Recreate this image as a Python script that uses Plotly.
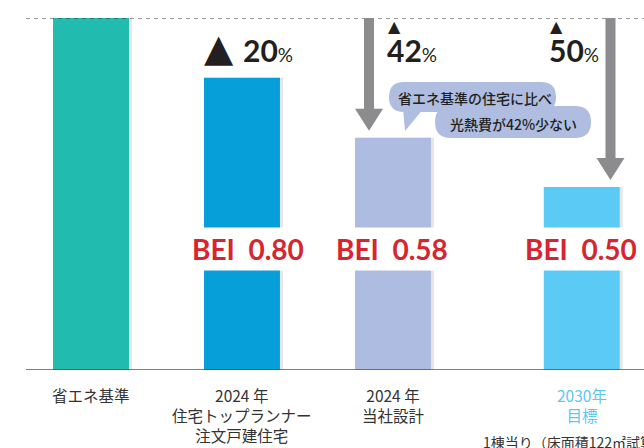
import plotly.graph_objects as go

categories = ['省エネ基準', '2024 年<br>住宅トップランナー<br>注文戸建住宅',
              '2024 年<br>当社設計', '2030年<br>目標']
bar_heights = [1.00, 0.83, 0.66, 0.52]   # drawn heights (省エネ基準 = 1)
bei_values = [1.00, 0.80, 0.58, 0.50]
bar_colors = ['#22BBB0', '#079FDA', '#ADBCE0', '#5BCBF5']
label_colors = ['#333333', '#333333', '#333333', '#5BC8F0']
bubble_lines = ['省エネ基準の住宅に比べ', '光熱費が42%少ない']
footnote = '1棟当り（床面積122㎡試算）'

W, H = 644, 448
L, T, B = 26, 18, 78
PW, PH = W - L, H - T - B
XMIN = -65 / 151
XMAX = XMIN + PW / 151
BAR_W = 0.503
shift = [0, 0, 0, 0.25]   # the 2030 bar sits a little further right

JP = 'Noto Sans CJK JP'
NUM = 'Lato'
DARK = '#231F20'
GRAY = '#8C8C8E'


def xp(v):
    return (v - XMIN) / (XMAX - XMIN)


def px(x, y):
    return (x - L) / PW, (H - B - y) / PH


def path(points):
    s = ''
    for i, (x, y) in enumerate(points):
        a, b = px(x, y)
        s += ('M' if i == 0 else 'L') + '{:.5f},{:.5f} '.format(a, b)
    return s + 'Z'


def rounded(x0, y0, x1, y1, r):
    def p(x, y):
        a, b = px(x, y)
        return '{:.5f},{:.5f}'.format(a, b)
    return ('M{} L{} Q{} {} L{} Q{} {} L{} Q{} {} L{} Q{} {} Z'.format(
        p(x0 + r, y0), p(x1 - r, y0), p(x1, y0), p(x1, y0 + r),
        p(x1, y1 - r), p(x1, y1), p(x1 - r, y1), p(x0 + r, y1),
        p(x0, y1), p(x0, y1 - r), p(x0, y0 + r), p(x0, y0), p(x0 + r, y0)))


fig = go.Figure()
# soft drop shadow on the right side of each bar
fig.add_trace(go.Bar(
    x=categories, y=bar_heights, width=BAR_W,
    offset=[-BAR_W / 2 + s + 3 / 151 for s in shift],
    marker=dict(color='#E6E6E6', line=dict(width=0)),
    hoverinfo='skip'))
fig.add_trace(go.Bar(
    x=categories, y=bar_heights, width=BAR_W,
    offset=[-BAR_W / 2 + s for s in shift],
    marker=dict(color=bar_colors, line=dict(width=0)),
    hoverinfo='skip'))

shapes = []
# dashed reference line at the 省エネ基準 level, and baseline
shapes.append(dict(type='line', xref='paper', yref='y', x0=0, x1=1, y0=1, y1=1,
                   line=dict(color='#333333', width=1, dash='4px,4px'), layer='above'))
shapes.append(dict(type='line', xref='paper', yref='y', x0=0, x1=1, y0=0, y1=0,
                   line=dict(color='#555555', width=1.5)))

# downward arrows for the 2024 当社設計 and 2030 bars
for i, ax in [(2, 369), (3, 610.5)]:
    tip = H - B - bar_heights[i] * PH - 7
    shapes.append(dict(type='path', xref='paper', yref='paper', line_width=0,
                       fillcolor=GRAY,
                       path=path([(ax - 5, T), (ax + 5, T), (ax + 5, tip - 22),
                                  (ax + 14, tip - 22), (ax, tip), (ax - 14, tip - 22),
                                  (ax - 5, tip - 22)])))

# speech bubble
BUB = '#AFBDE0'
shapes.append(dict(type='path', xref='paper', yref='paper', line_width=0, fillcolor=BUB,
                   path=rounded(389, 82, 556, 112, 15)))
shapes.append(dict(type='path', xref='paper', yref='paper', line_width=0, fillcolor=BUB,
                   path=rounded(435, 106, 591, 138, 16)))
shapes.append(dict(type='path', xref='paper', yref='paper', line_width=0, fillcolor=BUB,
                   path=path([(403, 108), (424, 108), (405, 131)])))

ann = []
centers = [i + s for i, s in enumerate(shift)]

# category labels under the axis
for c, lab, col in zip(centers, categories, label_colors):
    ann.append(dict(x=xp(c), y=px(0, 382)[1], xref='paper', yref='paper', text=lab,
                    showarrow=False, xanchor='center', yanchor='top', align='center',
                    font=dict(family=JP, size=15.5, color=col)))

# BEI labels cutting through the bars
for c, v, dx in zip(centers[1:], bei_values[1:], [6, -1, -1]):
    ann.append(dict(x=xp(c), y=px(0, 249)[1], xref='paper', yref='paper',
                    text='<b>BEI  {:.2f}</b>'.format(v), showarrow=False,
                    xanchor='center', yanchor='middle', xshift=dx, bgcolor='white',
                    height=42, borderpad=0,
                    font=dict(family=NUM, size=28, color='#D7252F')))

# reduction percentages
red = [round((1 - v) * 100) for v in bei_values]
ann.append(dict(x=px(202, 0)[0], y=px(0, 48)[1], xref='paper', yref='paper', text='▲',
                showarrow=False, xanchor='left', yanchor='middle',
                font=dict(family='DejaVu Sans', size=38, color=DARK)))
for i, (x0, big) in enumerate([(241, True), (385, False), (547, False)]):
    ann.append(dict(x=px(x0, 0)[0], y=px(0, 50)[1], xref='paper', yref='paper',
                    text='<b>{}</b><span style="font-size:19px">%</span>'.format(red[i + 1]),
                    showarrow=False, xanchor='left', yanchor='middle',
                    font=dict(family=NUM, size=30, color=DARK)))
    if not big:
        ann.append(dict(x=px(x0 + 1, 0)[0], y=px(0, 27)[1], xref='paper', yref='paper',
                        text='▲', showarrow=False, xanchor='left', yanchor='middle',
                        font=dict(family='DejaVu Sans', size=16, color=DARK)))

# bubble text
ann.append(dict(x=px(475, 0)[0], y=px(0, 98)[1], xref='paper', yref='paper',
                text=bubble_lines[0], showarrow=False, xanchor='center', yanchor='middle',
                font=dict(family=JP, size=14, color=DARK, weight=500)))
ann.append(dict(x=px(513, 0)[0], y=px(0, 124)[1], xref='paper', yref='paper',
                text=bubble_lines[1], showarrow=False, xanchor='center', yanchor='middle',
                font=dict(family=JP, size=14, color=DARK, weight=500)))

# footnote
ann.append(dict(x=px(481, 0)[0], y=px(0, 442)[1], xref='paper', yref='paper',
                text=footnote, showarrow=False, xanchor='left', yanchor='middle',
                font=dict(family=JP, size=14, color='#333333')))

fig.update_layout(
    width=W, height=H,
    margin=dict(l=L, r=0, t=T, b=B, pad=0),
    plot_bgcolor='white', paper_bgcolor='white', barmode='overlay',
    showlegend=False, shapes=shapes, annotations=ann,
    xaxis=dict(type='category', range=[XMIN, XMAX], showticklabels=False,
               showgrid=False, zeroline=False, showline=False, ticks=''),
    yaxis=dict(range=[0, 1], showticklabels=False, showgrid=False,
               zeroline=False, showline=False, ticks=''),
    hovermode=False,
)

# drop the default body margin so the 644x448 figure fills the window exactly
fig.write_html('out.html', config={'displayModeBar': False},
               post_script="document.body.style.margin='0';"
                           "document.body.style.overflow='hidden';")
